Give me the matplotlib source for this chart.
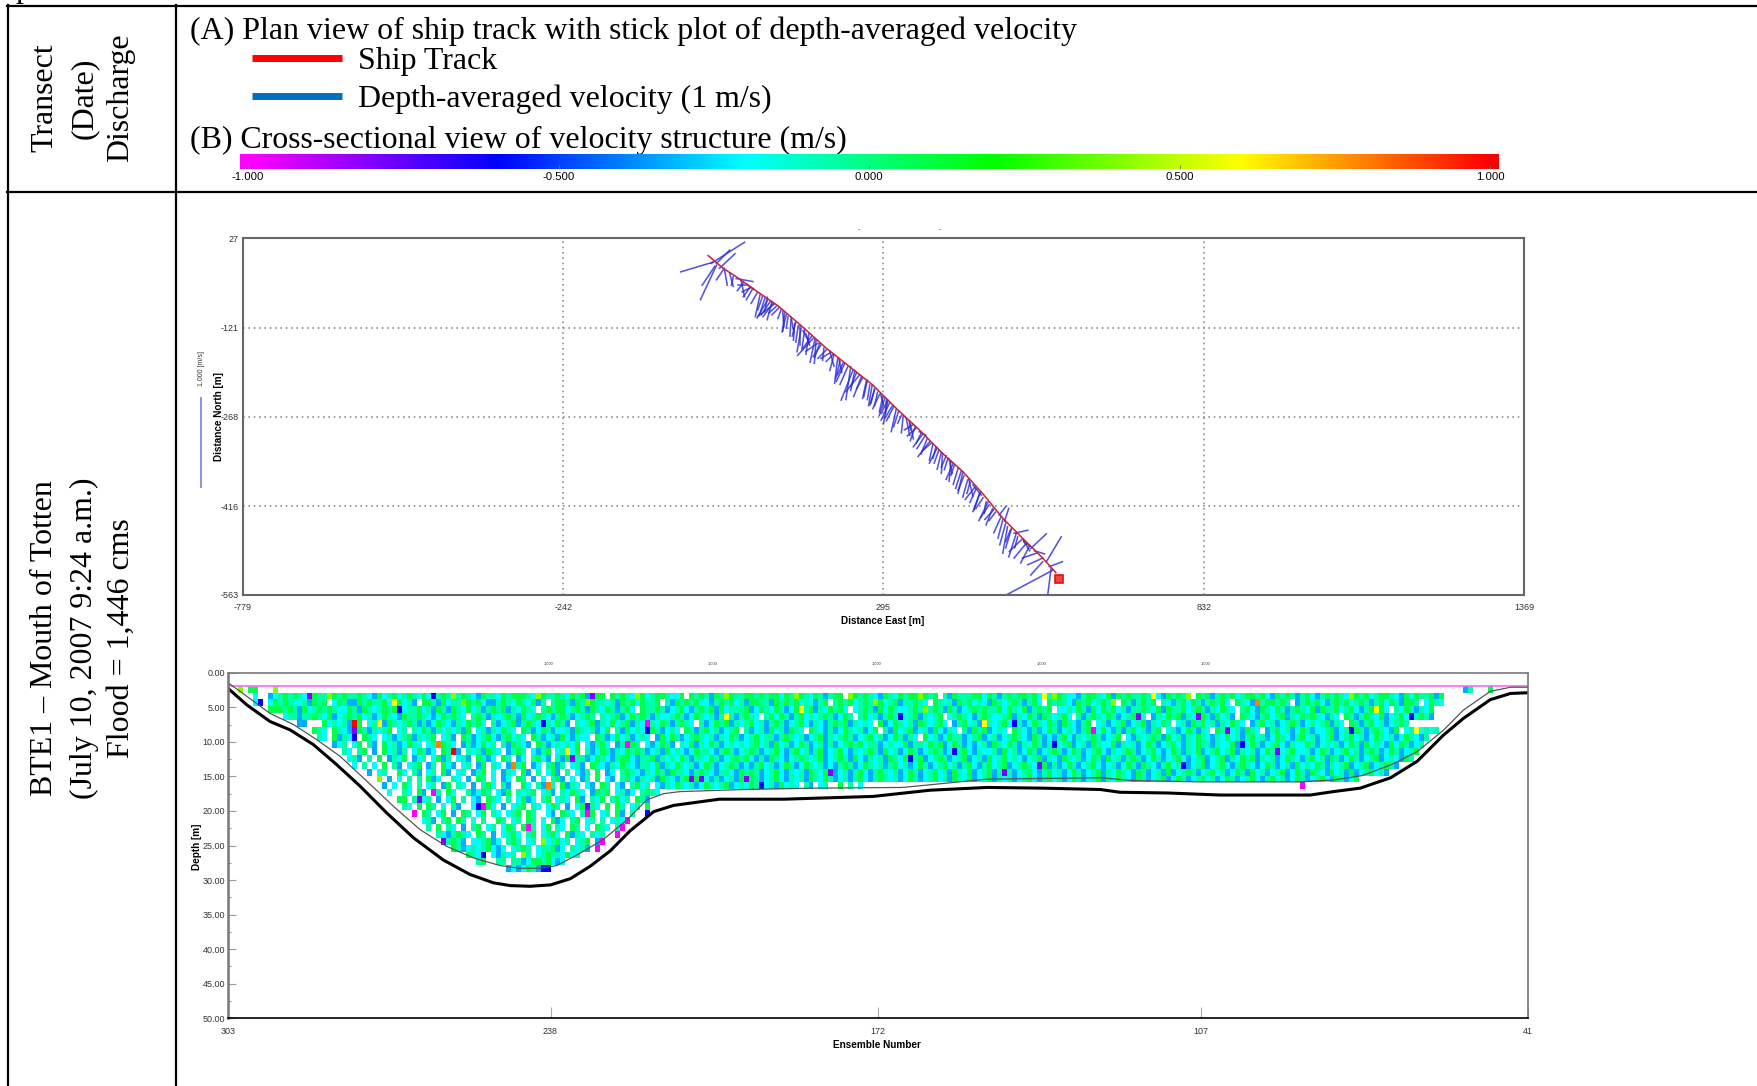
import numpy as np
import matplotlib
matplotlib.use('Agg')
import matplotlib.pyplot as plt
from matplotlib.colors import LinearSegmentedColormap

W, H = 1758, 1086
SERIF = 'Liberation Serif'
SANS = 'Liberation Sans'
TXT = 22.95

# ship track, metres east / north
TRACK_E = [1, 26, 48, 84, 118, 157, 199, 241, 277, 319, 355, 394, 428, 461, 495, 528, 562, 584]
TRACK_N = [-2, -23, -37, -62, -85, -118, -155, -188, -216, -257, -290, -329, -359, -395, -436, -469, -502, -526]
END_E = [590]
END_N = [-537]

# velocity sticks: base on the track, tip where the stick ends
STICK_BASE_E = [9, 6, 15, 15, 12, 20, 26, 28, 37, 43, 48, 56, 65, 70, 83, 88, 96, 101, 110, 115,
                123, 129, 135, 146, 157, 165, 174, 177, 182, 190, 199, 210, 218, 227, 244, 255, 266, 280, 294, 302,
                280, 288, 297, 305, 316, 325, 333, 344, 355, 364, 372, 383, 394, 403, 414, 425, 436, 445, 456, 467,
                478, 489, 495, 503, 514, 526, 534, 542, 551, 562, 568, 562, 573, 576, 579,
                75, 92, 105, 140, 152, 160, 185, 195, 205, 222, 235, 250, 260, 272, 285, 300, 310, 320, 338, 350,
                360, 368, 378, 388, 400, 408, 420, 430, 440, 450, 462, 472, 483, 500, 508, 520, 530,
                60, 66, 72, 100, 108, 112, 120, 126, 132, 140, 148, 155, 163, 170, 180, 188, 205, 212, 220, 230,
                240, 247, 258, 268, 276, 290, 302, 312, 328, 340, 348, 358, 375, 385, 392, 405, 412, 428, 438, 448,
                458, 470, 480, 492, 498, 510, 518, 528, 540, 548]
STICK_BASE_N = [-13, -15, -15, -18, -20, -23, -26, -23, -31, -37, -40, -42, -51, -56, -64, -67, -73, -75, -81, -86,
                -92, -97, -103, -114, -122, -131, -136, -139, -142, -150, -158, -166, -173, -180, -191, -199, -210, -222, -235, -241,
                -224, -232, -238, -246, -257, -266, -271, -282, -293, -301, -310, -318, -329, -337, -348, -359, -373, -381, -395, -409,
                -420, -431, -439, -450, -461, -472, -478, -486, -494, -502, -508, -508, -516, -519, -522,
                -58, -70, -78, -108, -118, -126, -147, -155, -163, -177, -186, -195, -204, -216, -228, -240, -250, -260, -275, -287,
                -298, -305, -313, -323, -333, -342, -354, -366, -377, -388, -402, -414, -426, -444, -455, -467, -475,
                -47, -50, -55, -71, -78, -82, -88, -94, -100, -104, -112, -117, -124, -131, -140, -147, -160, -166, -172, -180,
                -186, -192, -202, -208, -216, -230, -244, -252, -267, -280, -285, -296, -312, -320, -327, -338, -345, -360, -372, -385,
                -392, -410, -422, -434, -441, -452, -460, -470, -482, -490]
STICK_TIP_E = [-45, 62, 37, -12, -9, 46, 15, 33, 43, 40, 76, 62, 51, 60, 73, 80, 87, 83, 93, 103,
               118, 126, 132, 144, 150, 171, 160, 151, 179, 177, 185, 199, 213, 218, 224, 232, 260, 274, 288, 291,
               272, 277, 288, 291, 308, 319, 339, 330, 366, 351, 353, 378, 392, 397, 408, 416, 428, 459, 447, 464,
               467, 500, 487, 495, 537, 506, 514, 568, 528, 537, 593, 542, 595, 570, 495,
               65, 84, 90, 138, 148, 170, 165, 193, 190, 215, 222, 240, 250, 268, 280, 298, 298, 312, 340, 335,
               345, 358, 372, 380, 392, 405, 412, 420, 435, 440, 450, 458, 472, 490, 500, 515, 540,
               50, 78, 58, 96, 100, 85, 108, 128, 125, 145, 142, 155, 158, 165, 172, 180, 212, 205, 225, 216,
               232, 240, 245, 262, 270, 295, 295, 300, 325, 345, 340, 350, 360, 372, 385, 410, 400, 420, 445, 432,
               445, 455, 465, 480, 505, 500, 505, 540, 525, 565]
STICK_TIP_N = [-29, 20, 7, -75, -51, 1, -42, -51, -53, -51, -45, -70, -51, -70, -81, -103, -100, -105, -103, -97,
               -106, -127, -122, -142, -161, -150, -155, -167, -180, -169, -172, -177, -213, -199, -241, -227, -238, -246, -260, -263,
               -249, -255, -266, -274, -293, -279, -299, -290, -299, -321, -334, -337, -362, -356, -365, -387, -401, -398, -422, -428,
               -447, -417, -469, -494, -456, -491, -502, -462, -502, -513, -467, -530, -508, -566, -566,
               -75, -92, -100, -135, -145, -145, -160, -175, -172, -205, -215, -218, -222, -240, -250, -262, -270, -285, -290, -300,
               -318, -330, -340, -345, -352, -375, -380, -390, -395, -410, -420, -435, -440, -480, -475, -485, -482,
               -60, -58, -62, -95, -108, -102, -100, -120, -128, -130, -135, -150, -158, -165, -178, -170, -185, -192, -195, -210,
               -240, -225, -235, -235, -250, -250, -280, -275, -295, -305, -308, -312, -325, -345, -355, -362, -372, -395, -400, -405,
               -425, -440, -438, -460, -420, -485, -500, -490, -510, -495]

# channel bottom (thick line) and side-lobe limit (thin line), by ensemble
BOTTOM_ENS = [303, 299.2, 294.5, 290.5, 285.8, 281.1, 276.4, 271, 265.6, 259.6, 254.2, 249.5, 246.1, 242.1, 238, 234,
              230, 226, 222, 217.2, 213.2, 204, 191, 173, 161.5, 150, 139, 127.2, 123.2, 113.7, 103, 84.9, 80.2,
              74.8, 68.7, 63.3, 58, 54, 48.6, 44.5, 41]
BOTTOM_DEPTH = [2.26, 4.66, 7.07, 8.27, 10.4, 13.3, 16.4, 20.3, 23.9, 27.1, 29.2, 30.4, 30.8, 30.9, 30.7, 29.8,
                28.0, 25.8, 22.9, 20.1, 19.2, 18.3, 18.3, 17.9, 17.0, 16.6, 16.7, 16.9, 17.3, 17.4, 17.7, 17.7, 17.2,
                16.7, 15.2, 12.8, 9.0, 6.6, 3.9, 3.0, 2.9]
LIMIT_ENS = [303, 300, 294.5, 289.8, 285.1, 280.4, 275, 269.7, 264.3, 259, 253.5, 248.2, 244.1, 240.1, 236.7, 232,
             227.3, 222.6, 218.6, 215.2, 211.9, 199, 185, 167, 150, 127, 121, 107, 87, 80,
             74.5, 68.5, 63.3, 58, 54, 48.6, 44.5, 41]
LIMIT_DEPTH = [1.44, 3.0, 5.9, 7.5, 9.7, 12.1, 15.7, 19.3, 22.7, 25.1, 26.8, 27.9, 28.3, 28.3, 27.9, 26.1,
               24.1, 21.3, 18.4, 17.5, 17.2, 16.9, 16.7, 16.6, 15.4, 15.2, 15.6, 15.8, 15.8, 15.5,
               14.9, 13.3, 11.4, 8.3, 5.4, 2.7, 2.1, 2.1]
SURFACE_DEPTH = 1.875
BIN_TOP = 1.875

ENS_TICKS = [303, 238, 172, 107, 41]
DEPTH_TICKS = [0, 5, 10, 15, 20, 25, 30, 35, 40, 45, 50]
EAST_TICKS = [-779, -242, 295, 832, 1369]
NORTH_TICKS = [27, -121, -268, -416, -563]
CBAR_TICKS = [-1.0, -0.5, 0.0, 0.5, 1.0]

# velocity class of each letter, m/s
CLASS_VALUE = {'m': -1.0, 'p': -0.8, 'b': -0.6, 'a': -0.33, 'c': -0.2, 's': -0.07,
               'g': 0.08, 'l': 0.4, 'y': 0.6, 'o': 0.8, 'r': 1.0}

# depth cells by eye: first ensemble column of each bin row, then its letters ('.' = no data)
ROW_START = [0, 8, 8, 8, 11, 14, 17, 18, 21, 22, 23, 25, 27, 30, 31, 32, 34, 35, 37, 39, 40, 42, 43, 45, 48, 50, 56]
ROW_CELLS = [
    "",
    "acsgsgscagsslgsgssgscagcsgcsgscgcbsgslsgscagsscgsg"
    "ggsclgssgscgsgasgg.gsgsclgcsggsccg.gsgsagslgssggsg"
    "sggcgslgscgsasgg.lgsgscagscgsgglgsg.sagsssggcgsasg"
    "sggsgcgslgsccasggscgagsgssgsgcagsgsl.gsgasgsgcsggs"
    "gcagsgsasgcasgsgsclgsgcsggscagcgssgag",
    "cgsgsccsagsg.cgsaagsgssgcsgcsa.ggsagcsslgsgcaasgsc"
    "gscgas.sggsagslgsscsagsgcgssg.sagsgsgccasgsgcsaggs"
    "sagsgsgcscasg.sgsgcsgslgcsgassgsc.gscsagsgcscagscs"
    "gsasgc.gsgscagsgcsgsl.gsasgsg.scasgcgsasgsgc.gscag"
    "sggsgs.asgsgcasgsgcsgsasgcgsaggs.cgsc",
    "gggsgsagcsgsgsccgsagscsgsgbcssgcsagsagscgcsasgsgas"
    "cgsc.sgsggcsgsagscgsasgc.gssgsacsgcasgsgagcsssgacg"
    "scgsacgssgascgsgc.csgsagcgsccsgslsgsagsacsgsgssgcg"
    "scgasgsg.ccscgsagcgsgcsassgscgagssgcsgsascgsc.sgca"
    "gscgsasgscgagssgcsgcasgsgc.scgsascg",
    "cssassgscgacsgsgcsacgscagssgscacgsgsc.sgsascsgsagc"
    "sgscasgsacsgs.scsgacgsgsasccsgsacgscsasgsasgsc.sgc"
    "gsasgcscsgsacgs.sgcsasgsbcsgascsg.csgscasgsccsgasc"
    "gsagscsgc.sasgscgsacsgsc.ascgsgascsgsagcsa.gscasgc"
    "sgascgsgscasc.gsasgscgacsgcbsgsa",
    "aa...gcscsagg.cscagscsgsasacgscascgsgc.sacsgasgscb"
    "scgsa.scsgascgcsgascsscgsasgsc.sacgsgascsgcsasgsac"
    "sgcascasgsgascsc.gacgscsagscsgc.asgcsagscsgcbsacgs"
    "cgsagscasg.csacsgacsgascgs.csagsgcsascgsc.asgcsacs"
    "gsacscsgasc.gsasgcsacsgs",
    "gsc.gscacgsascsg.cs.scgsascscsag.csascgsc.gsacgsac"
    "csagscsacg.sagcscsgsacsc.gsasgcsacsg.sacsagcsagsc."
    "gscasacgscsacg.sagcsgacsagcasc.sagsgacsc.gscasacgs"
    "acscasg.cgcasasgcsasg.csacgsasc.gsacsagsc.asgcsacg"
    "saccsgacsbgsasgscag.csacscs",
    "sc.gascb.gsc.csacsgascsg.csa.gsacsgcasgcsc.gsacsag"
    "cascc.gsacgcsacsc.agcgsacsgscsascgsacsgcssasgscsac"
    "sgascsgsacsgcsacgsasc.gcsacgssacsgacsacsgscagsacas"
    "gcascsgsacsg.cascsgsagcsascgscascgcsasgcsacgscasgc"
    "sacsgacsgcsacgscsacgscas",
    "acs.cg.sa.gcsacgsc.csagsc.asacgcs.sagsca.gsacscscg"
    ".casgc.assgs.cacgsa.scgascgsacscscsgcsagcsacgsacsa"
    "sacsgsgcssacsccgasscgsgacgsacacsagscgsascgsasbcsga"
    "csagsccgascsacgsacsgcascgssasccgabcgsacsgcasccgsac"
    "scsacgsagcscagcgsacs",
    ".sc.sg.a.gcsas.cgsac.gsca.scsagsc.asgs.casg.csacg."
    "sacgsascgsgsacsagcscacgsscasgsacsgsacsgcasgcsasgac"
    "sgcascsgsagcsacgsacsgsacbsgcasccsagcsacgsacsgsacgs"
    "acsgcascsgsacsgcacgsascgacsgcsgascsacgsacsgccsacgs"
    "acsgcsasgsacgsacsg",
    ".csa.s.g.ascg.acs.cgas.csa.gsac.gs.ac.sgca.sagcssa"
    "cgscasggcassgascscgsasscgsacsgsgcasagscacsgscsgacs"
    "gsagcascsagscgbsgacsgsacsgacsagcsgcscacsgascagscsa"
    "cgsagcsasgsacgsacsgcacsgacsgascgsgascsacgscasgcsag"
    "sacgsacsgacscags",
    "c.s.c.g.sa.csg.as.gca.cs.ag.sc.acsg.ac.sgas.csa.gs"
    "cascgscasscgascgscsacgsacsgsacasgcsacgsacgscsacasg"
    "sacgscsasgcsacgsacsgcsasgcasgcsgacsgscsgasacgsacsg"
    "cacsacgsagscasgcsbacsgacsgcasgscacgsacsagcscgsascs"
    "gacsgacsgsa",
    ".a.cs..gc.sa.cs.ga.cs.asg.c.asc.ga.s.cga.s.cas.g.a"
    "c.sgscascgsagsscasgscasscagsgsacsgcascsagscgsacsas"
    "gcasgscsacgsacsgcsagscgacsgascsacsgcasgcsacgsacsga"
    "scgscagsacsagacsgsacsgcsacgsagcsacsgacgsagscagcsag"
    "acsgcsa",
    "l.a.c.s.s.gac..sc.a.gs.c.ac.gs.a.c.sga.c.as.g.ca.s"
    "gcascsagscasgcgscasacsagsgsacsgcascsagscgsacsasgca"
    "sgscsacgsacsgcsagscgacsgascsacsgcasgcsacgsacsgascg"
    "scagsacsgacgsacsgcsacgsacsgcasgcsacgsacsgcagsacg",
    "a.c.gc.s.cs.ag.sc.a.sgc.sa..gc.sacs.gasc.ca.gs.ca.sgcs.cascgscsacgscsgacscgsbcsagcsc.sa.cs..g.s.c",
    "c..sc.ga.cs.gc..sacgs.cag.scsg.csa.scgsc.agsg.csac.sgsc",
    "gg.s.cs.a.cg.s.ca.gsc.s.cgac.sg.csc.ga.scg.sgcs.gsa",
    "sc.g.gs.c.sa..cs.gc.a.csg.sc.cgs.a.cg.sc.g.gs.cs.g",
    "g.gs.cg.a.gs.cg.sc.csg.gs..ca.gsc.s.g.cs.ga.s",
    "csa.sg.gs.c.s..gs.cs.gs.c.gac.sg.cs.s.csc",
    "s.g.sc.a.sg.cs.cgs.gas.cg.sc.gs.c.gsc.sg",
    "scasgsc.gs.a.csgc.sg.csgc.gasc.scs.",
    "csgsa.ccsgac.sgs.cs.lcsgcs.csg.a",
    "gsacscsgcac.csgs.cssgac.scsa",
    "gscb.cascs.ls.csgsscgcs",
    "sg..ss.ssacggsgcac",
    "acacgsabb",
]
# single cells that stand out: bin row, ensemble column, class
ODD_ROWS = [0, 0, 0, 0, 0, 0, 0, 1, 2, 2, 5, 6, 5, 2, 8, 9, 11, 14, 1, 1, 5, 6, 8, 10, 9, 15, 16, 17, 17, 18, 17, 18,
            20, 22, 26, 26, 23, 22, 21, 20, 19, 18, 13, 13, 13, 12, 3, 4, 6, 5, 1, 12, 11, 2, 4, 4, 6, 9, 1, 3, 6, 14]
ODD_COLS = [2, 4, 5, 9, 249, 250, 254, 5, 5, 6, 25, 25, 30, 33, 42, 45, 57, 64, 16, 73, 84, 84, 80, 69, 68, 41, 38, 50,
            51, 37, 72, 72, 60, 43, 63, 64, 74, 75, 78, 79, 80, 84, 93, 95, 104, 121, 115, 100, 174, 152, 164, 156, 163,
            207, 183, 195, 201, 211, 186, 231, 239, 216]
ODD_CLASS = 'lgglasg' 'ccb' 'rpyyoroo' 'pp' 'mbm' 'py' 'mpbmmpm' 'mpbbmmmmmb' 'pppp' 'yy' 'myypp' 'oppppyyym'

rainbow = LinearSegmentedColormap.from_list(
    'rainbow_adcp', ['#ff00ff', '#0000ff', '#00ffff', '#00ff00', '#ffff00', '#ff0000'], N=512)


def px_axes(left, top, right, bottom):
    return fig.add_axes([left / W, 1 - bottom / H, (right - left) / W, (bottom - top) / H])


fig = plt.figure(figsize=(W / 100, H / 100), dpi=100, facecolor='white')

# page: the table the two charts sit in
page = fig.add_axes([0, 0, 1, 1])
page.set_xlim(0, W)
page.set_ylim(H, 0)
page.axis('off')
page.plot([7, W], [5.6, 5.6], color='black', lw=1.6)
page.plot([7, W], [192, 192], color='black', lw=1.6)
page.plot([8, 8], [5, H], color='black', lw=1.6)
page.plot([176, 176], [5, H], color='black', lw=1.6)
page.text(23, -2.6, 'p', family=SERIF, fontsize=TXT, ha='center', va='baseline')

for lx, s in zip([45, 84, 121], ['Transect', '(Date)', 'Discharge']):
    page.text(lx, 98, s, family=SERIF, fontsize=TXT, rotation=90, ha='center', va='center')
for lx, s in zip([45, 84, 121], ['BTE1 \u2013 Mouth of Totten', '(July 10, 2007 9:24 a.m.)', 'Flood = 1,446 cms']):
    page.text(lx, 638, s, family=SERIF, fontsize=TXT, rotation=90, ha='center', va='center')

page.text(190, 31, '(A) Plan view of ship track with stick plot of depth-averaged velocity',
          family=SERIF, fontsize=TXT, va='center')
page.text(358, 62, 'Ship Track', family=SERIF, fontsize=TXT, va='center')
page.text(358, 99, 'Depth-averaged velocity (1 m/s)', family=SERIF, fontsize=TXT, va='center')
page.text(190, 140, '(B) Cross-sectional view of velocity structure (m/s)',
          family=SERIF, fontsize=TXT, va='center')
page.plot([252, 342], [58, 58], color='#ff0000', lw=5, solid_capstyle='butt')
page.plot([252, 342], [96, 96], color='#0070c0', lw=5, solid_capstyle='butt')

# colour bar
ax_bar = px_axes(240, 154, 1499, 169)
ramp = np.linspace(-1.013, 1.0145, 1024).reshape(1, -1)
ax_bar.imshow(ramp, cmap=rainbow, vmin=-1, vmax=1, aspect='auto', extent=[-1.013, 1.0145, 0, 1])
ax_bar.set_yticks([])
ax_bar.set_xticks(CBAR_TICKS)
ax_bar.set_xticklabels(['%.3f' % t for t in CBAR_TICKS], fontsize=8.2, family=SANS)
ax_bar.tick_params(axis='x', direction='in', length=3, width=0.6, color='#777777', pad=2)
for sp in ax_bar.spines.values():
    sp.set_visible(False)

# plan view
ax_plan = px_axes(243, 238, 1524, 595)
ax_plan.set_xlim(EAST_TICKS[0], EAST_TICKS[-1])
ax_plan.set_ylim(NORTH_TICKS[-1], NORTH_TICKS[0])
ax_plan.grid(True, color='#909090', linestyle=(0, (1, 2.2)), lw=1.2)
ax_plan.set_axisbelow(True)
ax_plan.set_xticks(EAST_TICKS)
ax_plan.set_yticks(NORTH_TICKS)
ax_plan.set_xticklabels([str(t) for t in EAST_TICKS], fontsize=6.5, family=SANS, color='#333333')
ax_plan.set_yticklabels([str(t) for t in NORTH_TICKS], fontsize=6.5, family=SANS, color='#333333')
ax_plan.tick_params(axis='y', length=0, pad=3)
ax_plan.tick_params(axis='x', length=0, pad=6)
for sp in ax_plan.spines.values():
    sp.set_color('#666666')
    sp.set_linewidth(1.5)
for b_e, b_n, t_e, t_n in zip(STICK_BASE_E, STICK_BASE_N, STICK_TIP_E, STICK_TIP_N):
    ax_plan.plot([b_e, t_e], [b_n, t_n], color='#2a2ad6', lw=1.15, alpha=0.8)
ax_plan.plot(TRACK_E, TRACK_N, color='#c8203a', lw=1.1)
ax_plan.plot(END_E, END_N, 's', ms=6, mfc='#ee4444', mec='#dd1111', mew=1.2)

page.text(883, 621, 'Distance East [m]', family=SANS, fontsize=7.2, fontweight='bold', ha='center', va='center')
page.text(219, 417, 'Distance North [m]', family=SANS, fontsize=7.2, fontweight='bold', rotation=90,
          ha='center', va='center')
page.text(202, 368, '1.000 [m/s]', family=SANS, fontsize=5, rotation=90, ha='center', va='center', color='#333333')
page.plot([201, 201], [398, 487], color='#8f8fe8', lw=1.4)
for lx in [859, 940]:
    page.text(lx, 230, '-', family=SANS, fontsize=5, ha='center', va='center', color='#444444')

# cross section
cells = np.full((27, 262), np.nan)
for r, (first, letters) in enumerate(zip(ROW_START, ROW_CELLS)):
    for i, ch in enumerate(letters):
        if ch != '.' and first + i < 262:
            cells[r, first + i] = CLASS_VALUE[ch]
for r, c, k in zip(ODD_ROWS, ODD_COLS, ODD_CLASS):
    cells[r, c] = CLASS_VALUE[k]

ax_sec = px_axes(228, 672.7, 1528, 1018.3)
ens_edges = np.arange(303, 40, -1)
depth_edges = BIN_TOP + np.arange(28)
ax_sec.pcolormesh(ens_edges, depth_edges, cells, cmap=rainbow, vmin=-1, vmax=1, antialiased=False)
ax_sec.plot([303, 41], [SURFACE_DEPTH, SURFACE_DEPTH], color='#ff66ff', lw=1.2)
ax_sec.plot(LIMIT_ENS, LIMIT_DEPTH, color='#555555', lw=0.9)
ax_sec.plot(BOTTOM_ENS, BOTTOM_DEPTH, color='black', lw=2.2)
ax_sec.set_xlim(303, 41)
ax_sec.set_ylim(50, 0)
ax_sec.set_xticks(ENS_TICKS)
ax_sec.set_yticks(DEPTH_TICKS)
ax_sec.set_yticks(np.array(DEPTH_TICKS[:-1]) + 2.5, minor=True)
ax_sec.set_xticklabels([str(t) for t in ENS_TICKS], fontsize=6.5, family=SANS, color='#333333')
ax_sec.set_yticklabels(['%.2f' % t for t in DEPTH_TICKS], fontsize=6.5, family=SANS, color='#333333')
ax_sec.tick_params(axis='x', direction='in', length=8, width=0.8, color='#aaaaaa', pad=6)
ax_sec.tick_params(axis='y', direction='in', length=6, width=0.8, color='#999999', pad=2)
ax_sec.tick_params(axis='y', which='minor', direction='in', length=2.5, width=0.8, color='#999999')
for name, sp in ax_sec.spines.items():
    sp.set_color('#777777')
    sp.set_linewidth(1.2)
ax_sec.spines['bottom'].set_color('black')
ax_sec.spines['left'].set_linewidth(1.8)

page.text(877, 1045, 'Ensemble Number', family=SANS, fontsize=7.2, fontweight='bold', ha='center', va='center')
page.text(197, 847, 'Depth [m]', family=SANS, fontsize=7.2, fontweight='bold', rotation=90, ha='center', va='center')
for lx in [549, 713, 877, 1042, 1206]:
    page.text(lx, 664, '1.000', family=SANS, fontsize=2.8, ha='center', va='center', color='#333333')

fig.savefig('out.png', dpi=100)
